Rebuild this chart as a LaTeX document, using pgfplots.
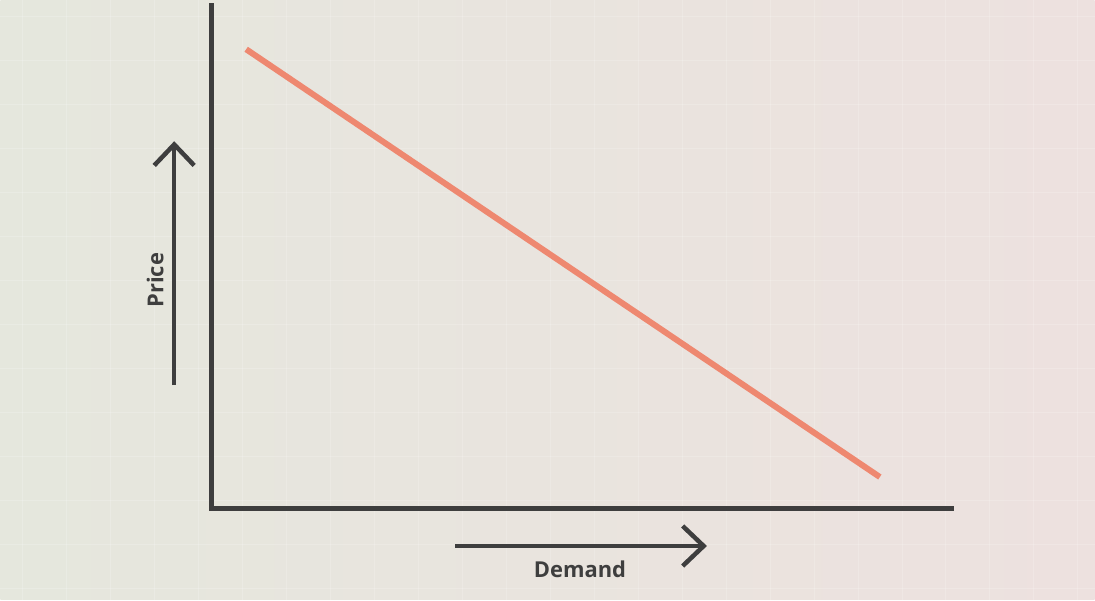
\documentclass[border=0pt]{standalone}
\usepackage{pgfplots}
\pgfplotsset{compat=1.18}
\usepackage{fontspec}
\setmainfont{Open Sans}
\usetikzlibrary{arrows.meta}
\definecolor{axisgray}{RGB}{62,62,62}
\definecolor{demandred}{RGB}{238,136,112}
\definecolor{bgleft}{RGB}{229,231,221}
\definecolor{bgright}{RGB}{237,225,223}
\begin{document}
\begin{tikzpicture}[x=1bp,y=1bp]
\shade[left color=bgleft, right color=bgright] (0,0) rectangle (1095,600);
\begin{scope}[draw=white, opacity=0.18, line width=0.6bp]
\foreach \gx in {22,66,110,154,198,242,286,330,374,418,462,506,550,594,638,682,726,770,814,858,902,946,990,1034,1078}
  \draw (\gx,0) -- (\gx,600);
\foreach \gy in {12,56,100,144,188,232,276,320,364,408,452,496,540,584}
  \draw (0,\gy) -- (1095,\gy);
\end{scope}
\begin{axis}[
  at={(211bp,92bp)}, anchor=origin,
  width=741bp, height=503bp, scale only axis,
  xmin=0, xmax=741, ymin=0, ymax=503,
  axis lines=left,
  axis line style={-, line width=5bp, draw=axisgray, line cap=rect},
  xtick=\empty, ytick=\empty,
  clip=false,
]
\addplot[demandred, line width=6bp, line cap=butt] coordinates {(35,459) (669,31)};
\draw[axisgray, line width=4.5bp, -{Straight Barb[length=21bp, width=40bp, line width=4.5bp]}] (axis cs:-37,123) -- (axis cs:-37,367);
\draw[axisgray, line width=4.5bp, -{Straight Barb[length=21bp, width=40bp, line width=4.5bp]}] (axis cs:244,-38) -- (axis cs:496,-38);
\node[rotate=90, text=axisgray, font=\bfseries\fontsize{22}{26}\selectfont] at (axis cs:-56,228) {Price};
\node[text=axisgray, font=\bfseries\fontsize{22}{26}\selectfont] at (axis cs:369,-61) {Demand};
\end{axis}
\end{tikzpicture}
\end{document}
